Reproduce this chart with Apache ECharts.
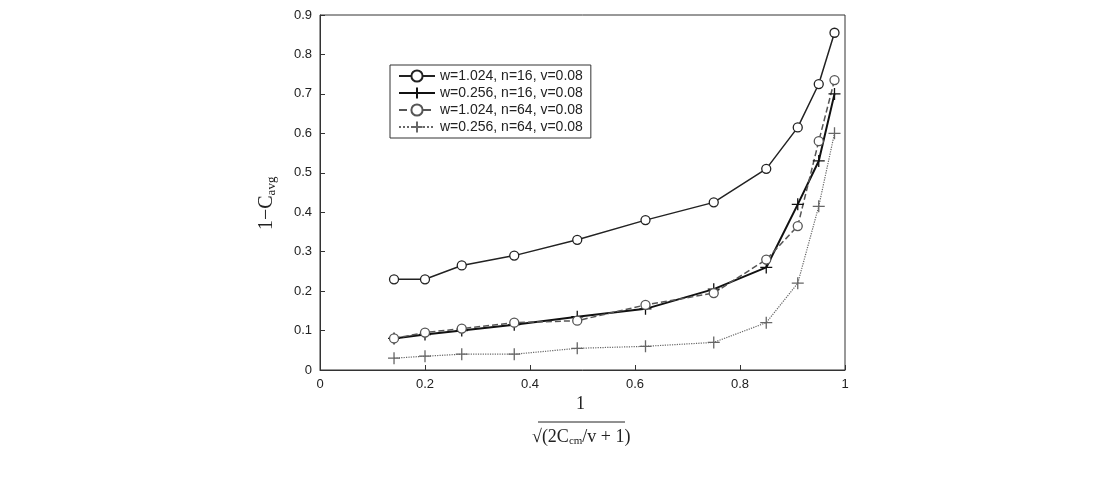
<!DOCTYPE html><html><head><meta charset="utf-8"><script src="https://cdn.jsdelivr.net/npm/echarts@6/dist/echarts.min.js"></script></head><body style="margin:0"><div id="c" style="width:1100px;height:480px"></div><script>
const xs=[0.141,0.2,0.27,0.37,0.49,0.62,0.75,0.85,0.91,0.95,0.98];
const s1=[0.23,0.23,0.265,0.29,0.33,0.38,0.425,0.51,0.615,0.725,0.855];
const s2=[0.08,0.09,0.10,0.115,0.135,0.155,0.205,0.26,0.42,0.53,0.70];
const s3=[0.08,0.095,0.105,0.12,0.125,0.165,0.195,0.28,0.365,0.58,0.735];
const s4=[0.03,0.035,0.04,0.04,0.055,0.06,0.07,0.12,0.22,0.415,0.60];
const names=['w=1.024, n=16, v=0.08','w=0.256, n=16, v=0.08','w=1.024, n=64, v=0.08','w=0.256, n=64, v=0.08'];
const z=a=>xs.map((x,i)=>[x,a[i]]);
const mk=(n,d,sym,col,w,type)=>({name:n,type:'line',data:z(d),symbol:sym,symbolSize:sym==='circle'?9:12,
 itemStyle:{color:'#fff',borderColor:col,borderWidth:1.3},lineStyle:{color:col,width:w,type:type},emphasis:{disabled:true}});
const plus='path://M0,5L10,5M5,0L5,10Z';
const ax={axisLine:{show:true,lineStyle:{color:'#333'}},axisTick:{inside:true,lineStyle:{color:'#333'}},splitLine:{show:false},axisLabel:{color:'#222',fontSize:13,fontFamily:'Arial'}};
const ch=echarts.init(document.getElementById('c'));
ch.setOption({animation:false,
grid:{left:320,right:255,top:15,bottom:110},
xAxis:Object.assign({type:'value',min:0,max:1,interval:0.2},ax),
yAxis:Object.assign({type:'value',min:0,max:0.9,interval:0.1},ax),
legend:{left:390,top:65,orient:'vertical',itemGap:3,itemWidth:36,backgroundColor:'#fff',borderColor:'#333',borderWidth:1,padding:[4,8],borderRadius:0,textStyle:{fontSize:14,color:'#222',fontFamily:'Arial'},data:names},
series:[mk(names[0],s1,'circle','#222',1.5,'solid'),mk(names[1],s2,plus,'#111',2,'solid'),mk(names[2],s3,'circle','#555',1.5,'dashed'),mk(names[3],s4,plus,'#666',1.2,'dotted')],
graphic:[
{type:'rect',shape:{x:320,y:15,width:525,height:355},style:{fill:'none',stroke:'#333',lineWidth:1},silent:true},
{type:'text',x:255,y:230,rotation:Math.PI/2,style:{text:'1−C{s|avg}',font:'20px serif',fill:'#222',rich:{s:{font:'13px serif',fill:'#222',padding:[10,0,0,0]}}}},
{type:'text',left:576,top:395,style:{text:'1',font:'18px serif',fill:'#222'}},
{type:'line',shape:{x1:538,y1:422,x2:625,y2:422},style:{stroke:'#222',lineWidth:1}},
{type:'text',x:532,y:428,style:{text:'√(2C{s|cm}/v + 1)',font:'18px serif',fill:'#222',rich:{s:{font:'11px serif',fill:'#222',padding:[8,0,0,0]}}}}
]});
</script></body></html>
